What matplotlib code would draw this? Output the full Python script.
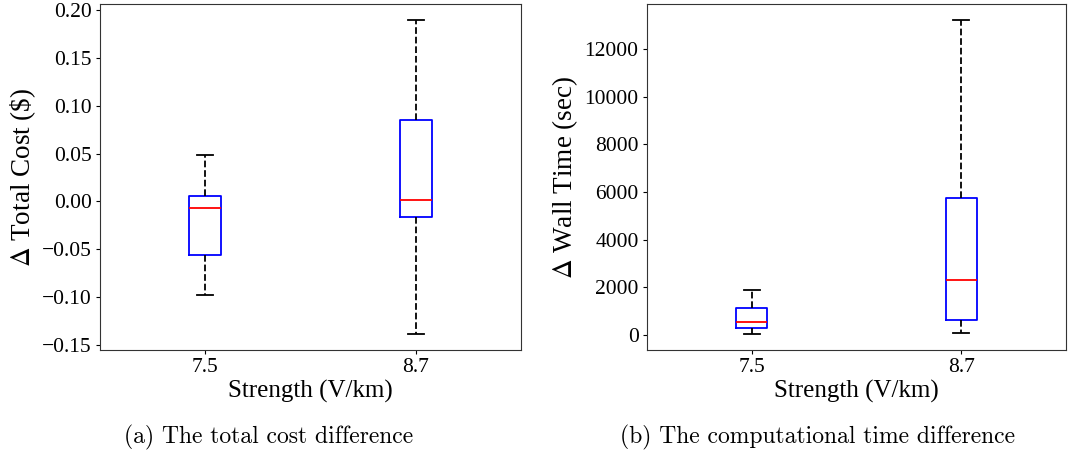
import matplotlib
matplotlib.use("Agg")
import matplotlib.pyplot as plt

# strengths (V/km)
strengths = ["7.5", "8.7"]

# box stats: whisker low, q1, median, q3, whisker high
cost_lo = [-0.098, -0.139]
cost_q1 = [-0.056, -0.016]
cost_med = [-0.007, 0.001]
cost_q3 = [0.006, 0.085]
cost_hi = [0.049, 0.190]

time_lo = [20, 70]
time_q1 = [280, 630]
time_med = [517, 2311]
time_q3 = [1105, 5727]
time_hi = [1890, 13235]

plt.rcParams['font.family'] = ['Liberation Serif', 'DejaVu Serif']
plt.rcParams['mathtext.fontset'] = 'stix'
plt.rcParams['axes.unicode_minus'] = True


def make_stats(lo, q1, med, q3, hi):
    stats = []
    for i in range(len(lo)):
        stats.append({'whislo': lo[i], 'q1': q1[i], 'med': med[i],
                      'q3': q3[i], 'whishi': hi[i], 'fliers': []})
    return stats


def draw(ax, stats, ylabel):
    ax.bxp(stats, positions=[1, 2], widths=0.15,
           boxprops=dict(color='blue', linewidth=1.3),
           medianprops=dict(color='red', linewidth=1.3),
           whiskerprops=dict(color='black', linestyle='--', linewidth=1.3),
           capprops=dict(color='black', linewidth=1.3),
           showfliers=False)
    ax.set_xlim(0.5, 2.5)
    ax.set_xticks([1, 2])
    ax.set_xticklabels(strengths)
    ax.set_xlabel('Strength (V/km)', fontsize=18, labelpad=2)
    ax.set_ylabel(ylabel, fontsize=19.5, labelpad=3)
    ax.tick_params(labelsize=15.5, length=3, pad=3)
    for s in ax.spines.values():
        s.set_color('#333333')


fig = plt.figure(figsize=(10.68, 4.55), dpi=100)
ax1 = fig.add_axes([100 / 1068, 105 / 455, 421 / 1068, 346 / 455])
ax2 = fig.add_axes([647 / 1068, 105 / 455, 419 / 1068, 346 / 455])

draw(ax1, make_stats(cost_lo, cost_q1, cost_med, cost_q3, cost_hi), r'$\Delta$ Total Cost (\$)')
draw(ax2, make_stats(time_lo, time_q1, time_med, time_q3, time_hi), r'$\Delta$ Wall Time (sec)')
ax1.set_yticks([-0.15, -0.10, -0.05, 0.0, 0.05, 0.10, 0.15, 0.20])
ax2.set_yticks([0, 2000, 4000, 6000, 8000, 10000, 12000])

fig.text(269 / 1068, 1 - 443 / 455, '(a) The total cost difference',
         family='cmr10', fontsize=17, ha='center', va='baseline')
fig.text(818 / 1068, 1 - 443 / 455, '(b) The computational time difference',
         family='cmr10', fontsize=17, ha='center', va='baseline')

fig.savefig('out.png', dpi=100)
